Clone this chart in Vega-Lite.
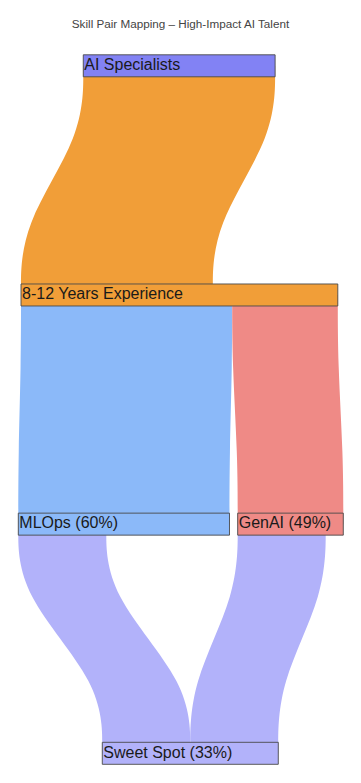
{
  "$schema": "https://vega.github.io/schema/vega-lite/v6.json",
  "width": 361,
  "height": 743,
  "autosize": {"type": "none"},
  "padding": {"top": 40, "left": 0, "right": 0, "bottom": 0},
  "background": "white",
  "title": {"text": "Skill Pair Mapping – High-Impact AI Talent", "anchor": "middle", "fontSize": 11.7, "font": "Liberation Sans", "fontWeight": "normal", "color": "#444", "offset": 9},
  "config": {"view": {"stroke": null}},
  "datasets": {
    "nodes": [
      {"node": "AI Specialists", "lvl": 0, "lo": 23.66, "hi": 78.16},
      {"node": "8-12 Years Experience", "lvl": 1, "lo": 5.97, "hi": 95.97},
      {"node": "MLOps (60%)", "lvl": 2, "lo": 5.2, "hi": 65.2},
      {"node": "GenAI (49%)", "lvl": 2, "lo": 67.53, "hi": 97.53},
      {"node": "Sweet Spot (33%)", "lvl": 3, "lo": 29.06, "hi": 79.06}
    ],
    "links": [
      {"link": "AI Specialists → 8-12 Years", "target": "8-12 Years Experience", "lvl": 0, "lo": 23.66, "hi": 78.16},
      {"link": "AI Specialists → 8-12 Years", "target": "8-12 Years Experience", "lvl": 0.3, "lo": 23.66, "hi": 78.16},
      {"link": "AI Specialists → 8-12 Years", "target": "8-12 Years Experience", "lvl": 0.7, "lo": 5.97, "hi": 60.47},
      {"link": "AI Specialists → 8-12 Years", "target": "8-12 Years Experience", "lvl": 1, "lo": 5.97, "hi": 60.47},
      {"link": "8-12 Years → MLOps", "target": "MLOps (60%)", "lvl": 1, "lo": 5.97, "hi": 65.97},
      {"link": "8-12 Years → MLOps", "target": "MLOps (60%)", "lvl": 1.3, "lo": 5.97, "hi": 65.97},
      {"link": "8-12 Years → MLOps", "target": "MLOps (60%)", "lvl": 1.7, "lo": 5.2, "hi": 65.2},
      {"link": "8-12 Years → MLOps", "target": "MLOps (60%)", "lvl": 2, "lo": 5.2, "hi": 65.2},
      {"link": "8-12 Years → GenAI", "target": "GenAI (49%)", "lvl": 1, "lo": 65.97, "hi": 95.97},
      {"link": "8-12 Years → GenAI", "target": "GenAI (49%)", "lvl": 1.3, "lo": 65.97, "hi": 95.97},
      {"link": "8-12 Years → GenAI", "target": "GenAI (49%)", "lvl": 1.7, "lo": 67.53, "hi": 97.53},
      {"link": "8-12 Years → GenAI", "target": "GenAI (49%)", "lvl": 2, "lo": 67.53, "hi": 97.53},
      {"link": "MLOps → Sweet Spot", "target": "Sweet Spot (33%)", "lvl": 2, "lo": 5.2, "hi": 30.2},
      {"link": "MLOps → Sweet Spot", "target": "Sweet Spot (33%)", "lvl": 2.3, "lo": 5.2, "hi": 30.2},
      {"link": "MLOps → Sweet Spot", "target": "Sweet Spot (33%)", "lvl": 2.7, "lo": 29.06, "hi": 54.06},
      {"link": "MLOps → Sweet Spot", "target": "Sweet Spot (33%)", "lvl": 3, "lo": 29.06, "hi": 54.06},
      {"link": "GenAI → Sweet Spot", "target": "Sweet Spot (33%)", "lvl": 2, "lo": 67.53, "hi": 92.53},
      {"link": "GenAI → Sweet Spot", "target": "Sweet Spot (33%)", "lvl": 2.3, "lo": 67.53, "hi": 92.53},
      {"link": "GenAI → Sweet Spot", "target": "Sweet Spot (33%)", "lvl": 2.7, "lo": 54.06, "hi": 79.06},
      {"link": "GenAI → Sweet Spot", "target": "Sweet Spot (33%)", "lvl": 3, "lo": 54.06, "hi": 79.06}
    ]
  },
  "layer": [
    {
      "data": {"name": "links"},
      "mark": {"type": "area", "orient": "horizontal", "interpolate": "basis"},
      "encoding": {
        "y": {"field": "lvl", "type": "quantitative", "scale": {"domain": [-0.1126, 3.1296], "reverse": true, "nice": false, "zero": false, "padding": 0}, "axis": null},
        "x": {"field": "lo", "type": "quantitative", "scale": {"domain": [0, 102.56], "nice": false, "zero": false, "padding": 0}, "axis": null},
        "x2": {"field": "hi"},
        "detail": {"field": "link", "type": "nominal"},
        "color": {"field": "target", "type": "nominal", "legend": null,
          "scale": {"domain": ["AI Specialists", "8-12 Years Experience", "MLOps (60%)", "GenAI (49%)", "Sweet Spot (33%)"],
                    "range": ["#8282f4", "#f19e38", "#8bb9f9", "#ef8a86", "#b2b2fa"]}}
      }
    },
    {
      "data": {"name": "nodes"},
      "mark": {"type": "bar", "orient": "horizontal", "size": 22, "stroke": "#4a4a4a", "strokeWidth": 0.9},
      "encoding": {
        "y": {"field": "lvl", "type": "quantitative", "scale": {"domain": [-0.1126, 3.1296], "reverse": true, "nice": false, "zero": false, "padding": 0}, "axis": null},
        "x": {"field": "lo", "type": "quantitative", "scale": {"domain": [0, 102.56], "nice": false, "zero": false, "padding": 0}, "axis": null},
        "x2": {"field": "hi"},
        "color": {"field": "node", "type": "nominal", "legend": null}
      }
    },
    {
      "data": {"name": "nodes"},
      "mark": {"type": "text", "align": "left", "baseline": "middle", "dx": 1, "dy": -0.8, "fontSize": 16, "font": "Liberation Sans", "color": "#1a1a1a"},
      "encoding": {
        "y": {"field": "lvl", "type": "quantitative", "axis": null},
        "x": {"field": "lo", "type": "quantitative", "axis": null},
        "text": {"field": "node", "type": "nominal"}
      }
    }
  ]
}
